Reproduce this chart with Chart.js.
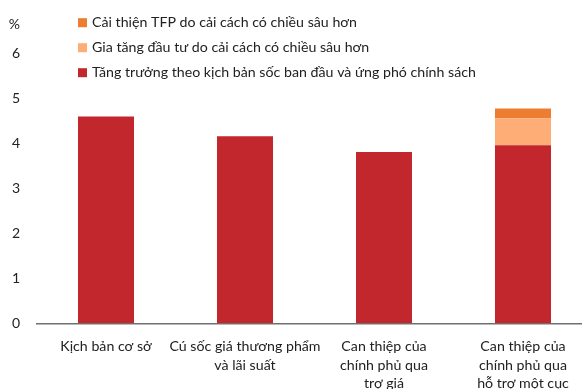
<!DOCTYPE html>
<html>
<head>
<meta charset="utf-8">
<script src="https://cdn.jsdelivr.net/npm/chart.js@4.4.1/dist/chart.umd.min.js"></script>
<style>
  body { margin: 0; background: #fff; }
  #khung { width: 582px; height: 389px; overflow: hidden; position: relative; }
  #hop { width: 600px; height: 420px; position: absolute; left: 0; top: 0; }
</style>
</head>
<body>
<div id="khung"><div id="hop"><canvas id="bieuDo"></canvas></div></div>
<script>
// du lieu doc tu hinh
const nhan = [
  ['Kịch bản cơ sở'],
  ['Cú sốc giá thương phẩm', 'và lãi suất'],
  ['Can thiệp của', 'chính phủ qua', 'trợ giá'],
  ['Can thiệp của', 'chính phủ qua', 'hỗ trợ một cục']
];
const tenChuoi = [
  'Tăng trưởng theo kịch bản sốc ban đầu và ứng phó chính sách',
  'Gia tăng đầu tư do cải cách có chiều sâu hơn',
  'Cải thiện TFP do cải cách có chiều sâu hơn'
];
const tangTruong = [4.6, 4.16, 3.81, 3.96];
const dauTu = [null, null, null, 0.6];
const tfp = [null, null, null, 0.22];
const vachY = [0, 1, 2, 3, 4, 5, 6];
const mau = ['#C1272D', '#FFAD76', '#ED7D31'];

const phong = '"Lato", "DejaVu Sans", sans-serif';

// chu giai ve tay, xep doc trong vung bieu do
const chuGiai = {
  id: 'chuGiai',
  afterDraw(chart) {
    const ctx = chart.ctx;
    const ds = chart.data.datasets.slice().reverse();
    ctx.save();
    ctx.font = '14.2px ' + phong;
    ctx.textBaseline = 'middle';
    ds.forEach((d, i) => {
      const y = 22.7 + i * 25;
      ctx.fillStyle = d.backgroundColor;
      ctx.fillRect(78, y - 4.5, 9, 9);
      ctx.fillStyle = '#222';
      ctx.fillText(d.label, 92, y);
    });
    ctx.restore();
  }
};

const ctx = document.getElementById('bieuDo').getContext('2d');
new Chart(ctx, {
  type: 'bar',
  data: {
    labels: nhan,
    datasets: [
      { label: tenChuoi[0], data: tangTruong, backgroundColor: mau[0] },
      { label: tenChuoi[1], data: dauTu, backgroundColor: mau[1] },
      { label: tenChuoi[2], data: tfp, backgroundColor: mau[2] }
    ]
  },
  options: {
    responsive: true,
    maintainAspectRatio: false,
    animation: false,
    layout: { padding: { top: 22.7, right: 7.5, left: 0, bottom: 0 } },
    datasets: { bar: { categoryPercentage: 1, barPercentage: 0.403, borderWidth: 0 } },
    plugins: { legend: { display: false }, tooltip: { enabled: false } },
    scales: {
      x: {
        stacked: true,
        grid: { display: false, drawTicks: false },
        border: { display: true, color: '#707070', width: 1.5 },
        ticks: {
          font: { family: phong, size: 14.2, lineHeight: 1.31 },
          color: '#222',
          padding: 14,
          maxRotation: 0,
          autoSkip: false
        },
        afterFit(s) { s.height = 96.7; }
      },
      y: {
        stacked: true,
        min: 0,
        max: 6.64,
        grid: { display: false, drawTicks: false },
        border: { display: false },
        afterBuildTicks(s) {
          s.ticks = vachY.map(v => ({ value: v })).concat([{ value: 6.64 }]);
        },
        ticks: {
          font: { family: phong, size: 14 },
          color: '#222',
          padding: 16.5,
          callback: v => (v > 6 ? '%' : v)
        },
        afterFit(s) { s.width = 36.5; }
      }
    }
  },
  plugins: [chuGiai]
});
</script>
</body>
</html>
